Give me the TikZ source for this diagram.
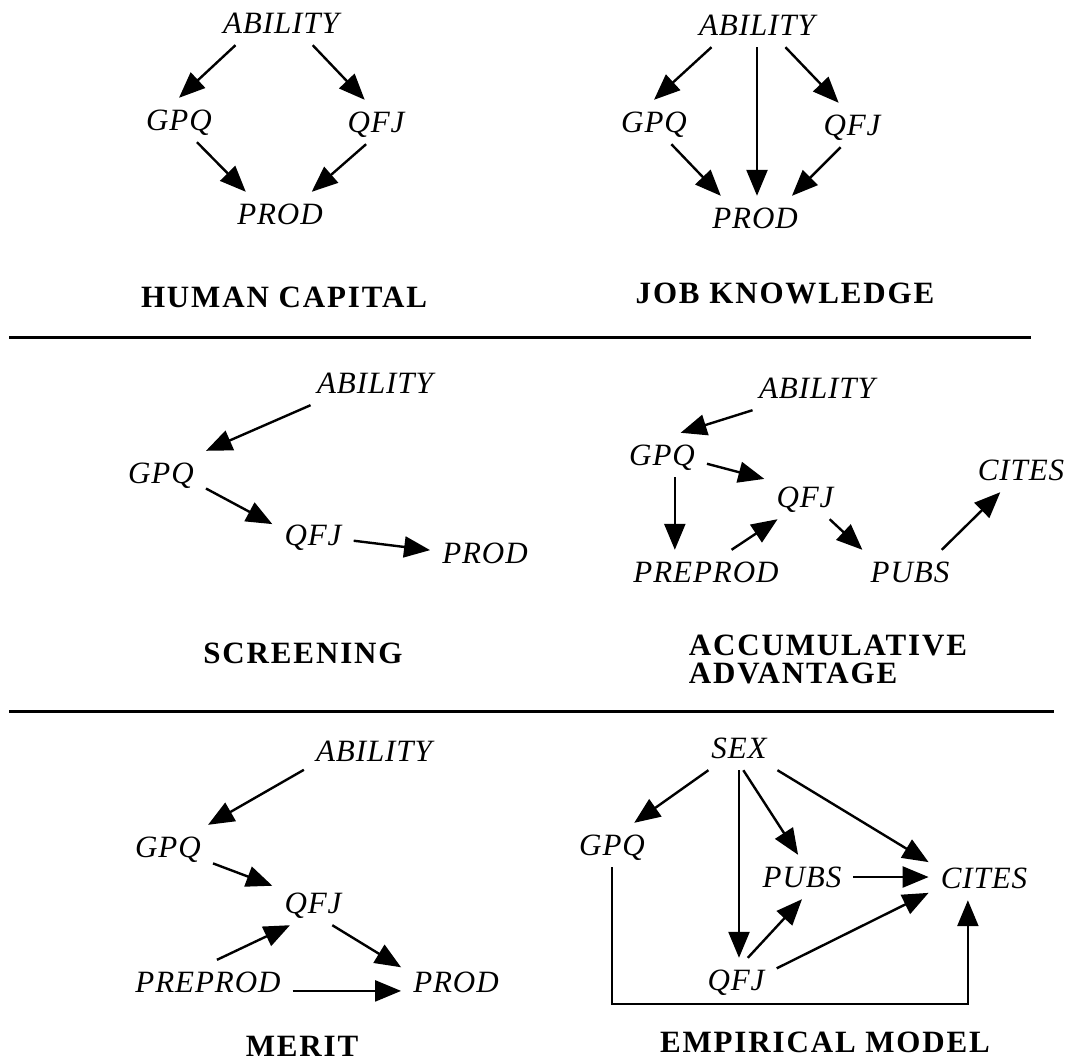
\documentclass[tikz,border=0pt]{standalone}
\usepackage{fontspec}
\setmainfont{Liberation Serif}
\newfontfamily\varfont{Liberation Serif}[LetterSpace=3]
\newfontfamily\ttlfont{Liberation Serif}[LetterSpace=6]
\usetikzlibrary{arrows.meta}

\begin{document}
\begin{tikzpicture}[
      x=1pt,y=-1pt,
      >={Triangle[length=26pt,width=21pt]},
      var/.style={font=\fontsize{31}{36}\selectfont\varfont\itshape,text height=20pt,text depth=0pt,inner sep=12pt},
      ttl/.style={font=\fontsize{31}{28}\selectfont\ttlfont\bfseries,inner sep=0pt},
      arr/.style={draw=black,line width=2.4pt,->},
      sepline/.style={draw=black,line width=3pt}
    ]
    \useasboundingbox (0,0) rectangle (1065,1061);
    % human capital
    \node[var] (ab1) at (281,23) {ABILITY};
    \node[var] (gpq1) at (179,120) {GPQ};
    \node[var] (qfj1) at (376,122) {QFJ};
    \node[var] (prod1) at (280,214) {PROD};
    \draw[arr] (ab1.-154) -- (gpq1.north);
    \draw[arr] (ab1.-35) -- (qfj1.117);
    \draw[arr] (gpq1.-51) -- (prod1.147);
    \draw[arr] (qfj1.-114) -- (prod1.35);
    \node[ttl,anchor=base] (t1) at (284,307) {HUMAN CAPITAL};
    % job knowledge
    \node[var] (ab2) at (757,25) {ABILITY};
    \node[var] (gpq2) at (654,122) {GPQ};
    \node[var] (qfj2) at (852,125) {QFJ};
    \node[var] (prod2) at (755,218) {PROD};
    \draw[arr] (ab2.-154) -- (gpq2.north);
    \draw[arr] (ab2.south) -- (ab2.south |- prod2.north);
    \draw[arr] (ab2.-38) -- (qfj2.121);
    \draw[arr] (gpq2.-52) -- (prod2.147);
    \draw[arr] (qfj2.-117) -- (prod2.31);
    \node[ttl,anchor=base] (t2) at (785,303) {JOB KNOWLEDGE};
    % separators
    \draw[sepline] (9,337) -- (1031,337);
    \draw[sepline] (9,711) -- (1054,711);
    % screening
    \node[var] (ab3) at (375,383) {ABILITY};
    \node[var] (gpq3) at (161,473) {GPQ};
    \node[var] (qfj3) at (313,535) {QFJ};
    \node[var] (prod3) at (485,553) {PROD};
    \draw[arr] (ab3.-161) -- (gpq3.north east);
    \draw[arr] (gpq3.-19) -- (qfj3.165);
    \draw[arr] (qfj3.-8) -- (prod3.177);
    \node[ttl,anchor=base] (t3) at (303,663) {SCREENING};
    % accumulative advantage
    \node[var] (ab4) at (817,388) {ABILITY};
    \node[var] (gpq4) at (662,455) {GPQ};
    \node[var] (cites4) at (1021,470) {CITES};
    \node[var] (qfj4) at (805,497) {QFJ};
    \node[var] (preprod4) at (706,572) {PREPROD};
    \node[var] (pubs4) at (910,572) {PUBS};
    \draw[arr] (ab4.-161) -- (gpq4.50);
    \draw[arr] (gpq4.-11) -- (qfj4.156);
    \draw[arr] (gpq4.-60) -- (gpq4.-60 |- preprod4.north);
    \draw[arr] (preprod4.41) -- (qfj4.-141);
    \draw[arr] (qfj4.-42) -- (pubs4.155);
    \draw[arr] (pubs4.35) -- (cites4.-133);
    \node[ttl,align=left] (t4) at (828,659) {ACCUMULATIVE\\ADVANTAGE};
    % merit
    \node[var] (ab5) at (374,751) {ABILITY};
    \node[var] (gpq5) at (168,847) {GPQ};
    \node[var] (qfj5) at (313,903) {QFJ};
    \node[var] (preprod5) at (208,982) {PREPROD};
    \node[var] (prod5) at (456,982) {PROD};
    \draw[arr] (ab5.-165) -- (gpq5.29);
    \draw[arr] (gpq5.-20) -- (qfj5.157);
    \draw[arr] (preprod5.68) -- (qfj5.-136);
    \draw[arr] (qfj5.-49) -- (prod5.165);
    \draw[arr] (preprod5.-6) -- (preprod5.-6 -| prod5.west);
    \node[ttl,anchor=base] (t5) at (302,1056) {MERIT};
    % empirical model
    \node[var] (sex) at (739,748) {SEX};
    \node[var] (gpq6) at (612,845) {GPQ};
    \node[var] (pubs6) at (802,877) {PUBS};
    \node[var] (cites6) at (984,878) {CITES};
    \node[var] (qfj6) at (736,980) {QFJ};
    \draw[arr] (sex.-144) -- (gpq6.45);
    \draw[arr] (sex.south) -- (sex.south |- qfj6.north);
    \draw[arr] (sex.-79) -- (pubs6.100);
    \draw[arr] (sex.-30) -- (cites6.164);
    \draw[arr] (pubs6.east) -- (pubs6.east -| cites6.west);
    \draw[arr] (qfj6.62) -- (pubs6.south);
    \draw[arr] (qfj6.16) -- (cites6.-165);
    \draw[arr] (gpq6.south) -- ++(0,137) -| (cites6.-126);
    \node[ttl,anchor=base] (t6) at (825,1052) {EMPIRICAL MODEL};
  \end{tikzpicture}
\end{document}
